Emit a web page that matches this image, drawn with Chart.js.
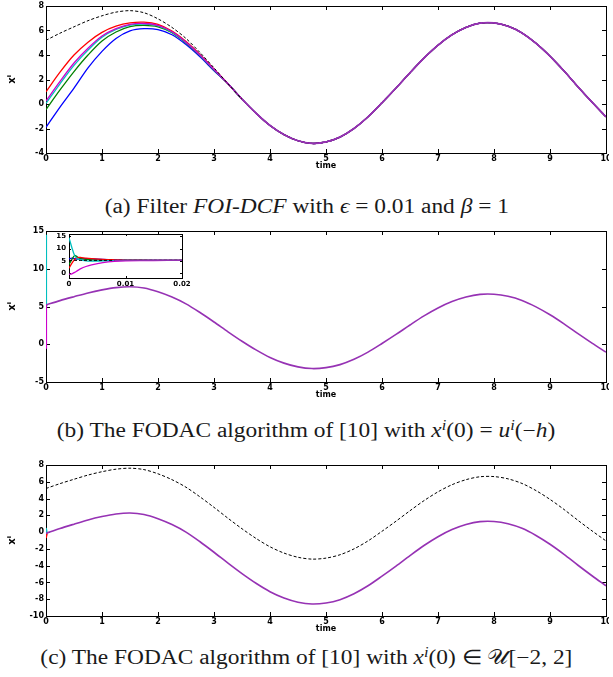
<!DOCTYPE html>
<html>
<head>
<meta charset="utf-8">
<script src="https://cdn.jsdelivr.net/npm/chart.js@4.4.0/dist/chart.umd.min.js"></script>
<style>
    html, body { margin: 0; padding: 0; background: #fff; }
    body { width: 613px; height: 677px; position: relative; overflow: hidden; }
    canvas { position: absolute; }
    .cap {
        position: absolute; left: 0; width: 613px; height: 24px; line-height: 24px;
        text-align: center; white-space: nowrap; color: #1a1a1a;
        font-family: 'Liberation Serif', 'Times New Roman', serif; font-size: 20px;
    }
    .cap .in { display: inline-block; transform: scaleX(1.17); }
    .cap sup { font-size: 0.7em; line-height: 0; vertical-align: 0.5em; }
</style>
</head>
<body>
<canvas id="chartA" width="609" height="172" style="left:0;top:0"></canvas>
<canvas id="chartB" width="609" height="176" style="left:0;top:225px"></canvas>
<canvas id="insetB" width="150" height="62" style="left:48px;top:228px"></canvas>
<canvas id="chartC" width="609" height="176" style="left:0;top:459px"></canvas>

<div class="cap" style="top:194px"><span class="in">(a) Filter <i>FOI-DCF</i> with <i>ϵ</i> = 0.01 and <i>β</i> = 1</span></div>
<div class="cap" style="top:418px"><span class="in">(b) The FODAC algorithm of [10] with <i>x<sup>i</sup></i>(0) = <i>u<sup>i</sup></i>(−<i>h</i>)</span></div>
<div class="cap" style="top:645px"><span class="in">(c) The FODAC algorithm of [10] with <i>x<sup>i</sup></i>(0) ∈ 𝒰[−2, 2]</span></div>

<script>
// temps (pas de 0.25)
const times = [0, 0.25, 0.5, 0.75, 1, 1.25, 1.5, 1.75, 2, 2.25, 2.5, 2.75, 3, 3.25, 3.5, 3.75, 4, 4.25, 4.5, 4.75,
    5, 5.25, 5.5, 5.75, 6, 6.25, 6.5, 6.75, 7, 7.25, 7.5, 7.75, 8, 8.25, 8.5, 8.75, 9, 9.25, 9.5, 9.75, 10];

// signal de référence (tirets noirs)
const refSignal = [5.2, 5.78, 6.3, 6.8, 7.2, 7.5, 7.62, 7.45, 6.95, 6.25, 5.35, 4.2, 2.95, 1.65, 0.4, -0.75, -1.75, -2.5, -3.0, -3.22,
    -3.1, -2.7, -2.0, -1.05, 0.1, 1.3, 2.55, 3.75, 4.8, 5.65, 6.25, 6.6, 6.62, 6.35, 5.8, 4.95, 3.9, 2.7, 1.4, 0.15, -1.05];

// (a) agents, t = 0 .. 3 (ensuite ils suivent la référence)
const aRed     = [1.0, 2.6, 4.0, 5.05, 5.85, 6.35, 6.62, 6.68, 6.5, 5.95, 5.1, 4.05, 2.85];
const aMagenta = [0.25, 1.85, 3.35, 4.55, 5.55, 6.15, 6.5, 6.57, 6.42, 5.9, 5.05, 4.0, 2.82];
const aCyan    = [0.05, 1.65, 3.15, 4.4, 5.45, 6.08, 6.44, 6.52, 6.38, 5.87, 5.02, 3.98, 2.8];
const aGreen   = [-0.45, 1.15, 2.65, 4.0, 5.15, 5.88, 6.32, 6.42, 6.3, 5.82, 4.98, 3.95, 2.78];
const aBlue    = [-1.9, -0.25, 1.3, 2.95, 4.3, 5.35, 5.97, 6.15, 6.07, 5.65, 4.85, 3.85, 2.72];

// (b) transitoire initial (encart, t = 0 .. 0.02)
const insetTimes   = [0, 0.0005, 0.001, 0.0015, 0.002, 0.003, 0.004, 0.006, 0.008, 0.01, 0.015, 0.02];
const insetCyan    = [14.5, 10.5, 7.2, 5.9, 5.4, 5.0, 4.9, 5.0, 5.1, 5.2, 5.2, 5.2];
const insetGreen   = [3.5, 5.5, 7.2, 6.6, 6.0, 5.6, 5.4, 5.3, 5.25, 5.2, 5.2, 5.2];
const insetRed     = [2.0, 4.0, 5.6, 6.3, 6.4, 6.1, 5.9, 5.6, 5.45, 5.35, 5.25, 5.2];
const insetBlue    = [5.8, 6.1, 5.9, 5.7, 5.8, 5.9, 5.8, 5.6, 5.45, 5.35, 5.25, 5.2];
const insetMagenta = [-0.5, -0.3, 0.3, 1.0, 1.7, 2.7, 3.4, 4.3, 4.8, 5.0, 5.15, 5.2];
const insetRef     = [5.2, 5.2, 5.2, 5.2, 5.2, 5.21, 5.21, 5.21, 5.22, 5.22, 5.23, 5.24];

// (c) consensus décalé + départs aléatoires
const cConsensus = [-0.15, 0.43, 0.95, 1.45, 1.85, 2.15, 2.27, 2.1, 1.6, 0.9, 0.0, -1.15, -2.4, -3.7, -4.95, -6.1, -7.1, -7.85, -8.35, -8.57,
    -8.45, -8.05, -7.35, -6.4, -5.25, -4.05, -2.8, -1.6, -0.55, 0.3, 0.9, 1.25, 1.27, 1.0, 0.45, -0.4, -1.45, -2.65, -3.95, -5.2, -6.4];
const cStartTimes = [0, 0.02];
const cCyanStart  = [0.5, -0.15];
const cRedStart   = [-0.7, -0.15];

// graduations
const xTicks = [0, 1, 2, 3, 4, 5, 6, 7, 8, 9, 10];
const yTicksA = [-4, -2, 0, 2, 4, 6, 8];
const yTicksB = [-5, 0, 5, 10, 15];
const yTicksC = [-10, -8, -6, -4, -2, 0, 2, 4, 6, 8];
const insetXTicks = [0, 0.01, 0.02];
const insetYTicks = [0, 5, 10, 15];

const colors = {
    red: '#ff0000', magenta: '#cc00cc', cyan: '#00bfbf', green: '#008000', blue: '#0000ff',
    purple: '#9632b4', ref: '#000000'
};

const pts = (xs, ys) => xs.map((x, i) => ({ x, y: ys[i] }));
const withTail = (early) => pts(times, early.concat(refSignal.slice(early.length)));

const line = (label, data, color, extra) => Object.assign({
    label, data, borderColor: color, borderWidth: 1.3, pointRadius: 0, fill: false, spanGaps: false
}, extra || {});

// cadre + graduations intérieures façon MATLAB (dessinés sous les courbes)
const boxTicks = {
    id: 'boxTicks',
    beforeDatasetsDraw(chart, args, opts) {
        const { ctx, chartArea: a, scales: { x, y } } = chart;
        const len = opts.len || 4;
        ctx.save();
        if (opts.whiteArea) {
            ctx.fillStyle = '#fff';
            ctx.fillRect(a.left, a.top, a.right - a.left, a.bottom - a.top);
        }
        ctx.strokeStyle = '#000';
        ctx.lineWidth = 1;
        ctx.beginPath();
        x.ticks.forEach(t => {
            const px = Math.round(x.getPixelForValue(t.value)) + 0.5;
            ctx.moveTo(px, a.bottom); ctx.lineTo(px, a.bottom - len);
            ctx.moveTo(px, a.top); ctx.lineTo(px, a.top + len);
        });
        y.ticks.forEach(t => {
            const py = Math.round(y.getPixelForValue(t.value)) + 0.5;
            ctx.moveTo(a.left, py); ctx.lineTo(a.left + len, py);
            ctx.moveTo(a.right, py); ctx.lineTo(a.right - len, py);
        });
        ctx.stroke();
        ctx.strokeRect(Math.round(a.left) + 0.5, Math.round(a.top) + 0.5,
            Math.round(a.right - a.left), Math.round(a.bottom - a.top));
        ctx.restore();
    }
};

const tickFont = { family: "'DejaVu Sans', sans-serif", size: 8, weight: 'bold' };

function buildOptions(p) {
    return {
        responsive: false,
        animation: false,
        events: [],
        layout: { padding: { top: p.top, right: p.right, left: 0, bottom: 0 } },
        elements: { line: { tension: 0.3 } },
        plugins: {
            legend: { display: false },
            tooltip: { enabled: false },
            boxTicks: { len: p.tickLen || 4, whiteArea: !!p.whiteArea }
        },
        scales: {
            x: {
                type: 'linear', min: p.xMin, max: p.xMax,
                afterBuildTicks: s => { s.ticks = p.xTicks.map(v => ({ value: v })); },
                afterFit: s => { s.height = p.xHeight; s.paddingLeft = 0; s.paddingRight = 0; },
                grid: { display: false, drawTicks: false },
                border: { display: false },
                ticks: { font: p.font || tickFont, color: '#000', padding: p.xPad, maxRotation: 0, autoSkip: false,
                    callback: v => String(v) },
                title: { display: !!p.xTitle, text: p.xTitle, font: tickFont, color: '#000',
                    padding: { top: 0, bottom: 1 } }
            },
            y: {
                type: 'linear', min: p.yMin, max: p.yMax,
                afterBuildTicks: s => { s.ticks = p.yTicks.map(v => ({ value: v })); },
                afterFit: s => { s.width = p.yWidth; s.paddingTop = 0; s.paddingBottom = 0; },
                grid: { display: false, drawTicks: false },
                border: { display: false },
                ticks: { font: p.font || tickFont, color: '#000', padding: p.yPad, autoSkip: false,
                    callback: v => String(v) },
                title: { display: !!p.yTitle, text: p.yTitle,
                    font: { family: "'DejaVu Sans', sans-serif", size: 10, weight: 'bold' }, color: '#000',
                    padding: { top: 6, bottom: 0 } }
            }
        }
    };
}

const mainOpts = (yTicks, yMin, yMax) => buildOptions({
    top: 6, right: 3, xMin: 0, xMax: 10, xTicks, yTicks, yMin, yMax,
    xHeight: 19, yWidth: 46, xPad: 1, yPad: 2, xTitle: 'time', yTitle: 'xⁱ'
});

// (a)
new Chart(document.getElementById('chartA'), {
    type: 'line',
    data: {
        datasets: [
            line('consensus', pts(times, refSignal.map((v, i) => i >= 14 ? v : null)), colors.purple, { borderWidth: 1.6 }),
            line('référence', pts(times, refSignal), colors.ref, { borderWidth: 1, borderDash: [3, 2] }),
            line('agent 5', withTail(aMagenta), colors.magenta),
            line('agent 4', withTail(aCyan), colors.cyan),
            line('agent 3', withTail(aRed), colors.red),
            line('agent 2', withTail(aGreen), colors.green),
            line('agent 1', withTail(aBlue), colors.blue)
        ]
    },
    options: mainOpts(yTicksA, -4, 8),
    plugins: [boxTicks]
});

// (b)
new Chart(document.getElementById('chartB'), {
    type: 'line',
    data: {
        datasets: [
            line('consensus', pts(times, refSignal), colors.purple, { borderWidth: 1.6 }),
            line('agent 5', pts(insetTimes, insetMagenta), colors.magenta, { borderWidth: 1.6, tension: 0 }),
            line('agent 4', pts(insetTimes, insetCyan), colors.cyan, { borderWidth: 1.6, tension: 0 }),
            line('agent 3', pts(insetTimes, insetRed), colors.red, { tension: 0 }),
            line('agent 2', pts(insetTimes, insetGreen), colors.green, { tension: 0 }),
            line('agent 1', pts(insetTimes, insetBlue), colors.blue, { tension: 0 })
        ]
    },
    options: mainOpts(yTicksB, -5, 15),
    plugins: [boxTicks]
});

// (b) encart
new Chart(document.getElementById('insetB'), {
    type: 'line',
    data: {
        datasets: [
            line('consensus', pts(insetTimes, insetRef.map((v, i) => insetTimes[i] >= 0.008 ? v : null)), colors.purple, { borderWidth: 1.2 }),
            line('référence', pts(insetTimes, insetRef), colors.ref, { borderWidth: 1, borderDash: [3, 2] }),
            line('agent 5', pts(insetTimes, insetMagenta), colors.magenta),
            line('agent 4', pts(insetTimes, insetCyan), colors.cyan),
            line('agent 3', pts(insetTimes, insetRed), colors.red),
            line('agent 2', pts(insetTimes, insetGreen), colors.green),
            line('agent 1', pts(insetTimes, insetBlue), colors.blue)
        ]
    },
    options: buildOptions({
        top: 6, right: 16, xMin: 0, xMax: 0.02, xTicks: insetXTicks, yTicks: insetYTicks, yMin: -2, yMax: 16,
        xHeight: 12, yWidth: 21, xPad: 2, yPad: 3, tickLen: 2, whiteArea: true,
        font: { family: "'DejaVu Sans', sans-serif", size: 7, weight: 'bold' }
    }),
    plugins: [boxTicks]
});

// (c)
new Chart(document.getElementById('chartC'), {
    type: 'line',
    data: {
        datasets: [
            line('consensus', pts(times, cConsensus), colors.purple, { borderWidth: 1.6 }),
            line('référence', pts(times, refSignal), colors.ref, { borderWidth: 1, borderDash: [3, 2] }),
            line('agent 4', pts(cStartTimes, cCyanStart), colors.cyan, { borderWidth: 1.6, tension: 0 }),
            line('agent 3', pts(cStartTimes, cRedStart), colors.red, { borderWidth: 1.6, tension: 0 })
        ]
    },
    options: mainOpts(yTicksC, -10, 8),
    plugins: [boxTicks]
});
</script>
</body>
</html>
